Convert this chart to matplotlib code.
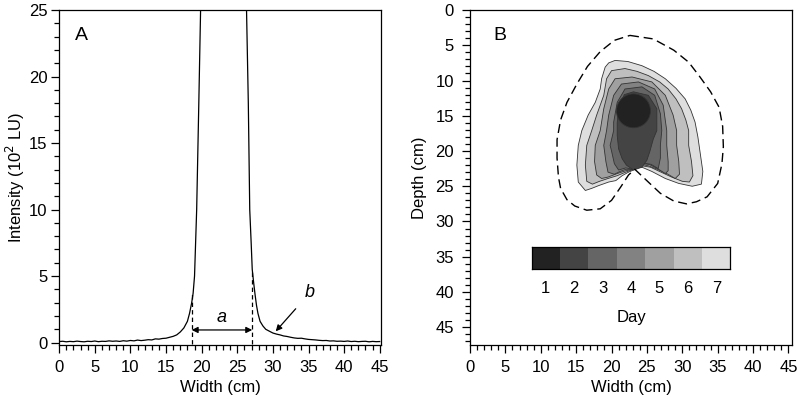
import numpy as np
import matplotlib.pyplot as plt
from matplotlib.colors import ListedColormap
from matplotlib.patches import Polygon, Circle
from matplotlib.ticker import MultipleLocator

plt.rcParams['font.family'] = ['Liberation Sans', 'DejaVu Sans']
plt.rcParams['font.size'] = 12

# ---- Panel A: intensity profile across the width ----
width_cm = [0, 0.5, 1, 1.5, 2, 2.5, 3, 3.5, 4, 4.5, 5, 5.5, 6, 6.5, 7, 7.5, 8, 8.5,
            9, 9.5, 10, 10.5, 11, 11.5, 12, 12.5, 13, 13.5, 14, 14.5, 15, 15.5, 16,
            16.5, 17, 17.5, 18, 18.3, 18.6, 18.8, 19.0, 19.3, 19.6, 19.85, 20.2,
            23.0, 26.0, 26.3, 26.55, 26.75, 26.95, 27.1, 27.3, 27.5, 27.7, 27.9,
            28.2, 28.6, 29.0, 29.6, 30.0, 30.5, 31.0, 31.5, 32, 32.5, 33, 33.5, 34,
            34.5, 35, 35.5, 36, 36.5, 37, 37.5, 38, 38.5, 39, 39.5, 40, 40.5, 41,
            41.5, 42, 42.5, 43, 43.5, 44, 44.5, 45]
intensity = [0.08, 0.10, 0.06, 0.09, 0.07, 0.11, 0.08, 0.06, 0.10, 0.08, 0.12, 0.07,
             0.10, 0.09, 0.13, 0.10, 0.12, 0.09, 0.14, 0.11, 0.16, 0.13, 0.19, 0.15,
             0.18, 0.22, 0.20, 0.28, 0.26, 0.31, 0.33, 0.40, 0.47, 0.58, 0.80, 1.10,
             1.60, 2.20, 3.00, 3.70, 5.00, 10.0, 18.0, 25.0, 35.0,
             50.0, 35.0, 25.0, 18.0, 10.0, 7.5, 5.5, 4.5, 3.6, 2.8, 2.2,
             1.60, 1.25, 1.00, 0.83, 0.72, 0.64, 0.58, 0.50, 0.46, 0.40, 0.35, 0.32,
             0.33, 0.28, 0.24, 0.22, 0.20, 0.17, 0.15, 0.16, 0.12, 0.13, 0.10, 0.11,
             0.09, 0.12, 0.08, 0.10, 0.07, 0.09, 0.10, 0.06, 0.09, 0.07, 0.08]

edge_left, edge_left_top = 18.6, 3.7
edge_right, edge_right_top = 27.1, 5.5
arrow_y = 0.95

# ---- Panel B: wetting pattern outlines per day (width cm, depth cm) ----
day7 = [(19.1, 8.1), (19.6, 7.5), (20.5, 7.15), (22.3, 7.3), (24.3, 7.9), (26.0, 8.7),
        (27.6, 9.75), (29.1, 11.1), (30.4, 12.6), (31.2, 14.2), (31.8, 15.9),
        (32.2, 18.0), (32.5, 20.1), (32.9, 22.9), (32.7, 24.7), (31.4, 25.0),
        (29.5, 24.6), (27.6, 23.9), (25.7, 22.9), (24.3, 22.3), (23.6, 22.4),
        (23.1, 22.7), (22.4, 23.0), (21.5, 23.5), (20.6, 24.2), (19.6, 24.4),
        (18.2, 24.9), (17.2, 25.3), (16.3, 25.6), (15.3, 24.4), (15.1, 22.0),
        (15.3, 19.2), (15.8, 17.1), (16.7, 14.9), (17.7, 13.1), (18.4, 11.2),
        (18.6, 9.75)]
day6 = [(19.3, 9.75), (20.0, 8.6), (21.9, 8.3), (23.6, 8.7), (25.2, 9.3), (26.8, 10.2),
        (28.0, 11.2), (29.1, 12.6), (29.9, 14.0), (30.5, 15.6), (30.9, 17.1),
        (30.9, 19.2), (31.3, 21.5), (31.5, 23.5), (31.0, 24.4), (30.0, 24.3),
        (28.5, 23.7), (27.0, 23.0), (25.5, 22.3), (24.3, 22.1), (23.1, 22.6),
        (22.0, 23.0), (20.8, 23.5), (19.5, 23.9), (18.3, 24.3), (17.3, 24.7),
        (16.5, 24.3), (16.3, 22.0), (16.5, 19.2), (17.2, 17.1), (17.9, 14.9),
        (18.9, 12.1)]
day5 = [(19.6, 11.2), (20.5, 9.75), (22.9, 9.5), (25.7, 10.2), (27.6, 12.1),
        (28.7, 14.9), (29.2, 17.1), (29.2, 19.2), (29.5, 21.5), (29.6, 23.3),
        (29.0, 23.9), (27.8, 23.2), (26.5, 22.6), (25.2, 22.1), (24.2, 21.9),
        (23.1, 22.6), (22.0, 22.8), (20.8, 23.2), (19.5, 23.7), (18.6, 23.9),
        (17.9, 23.4), (17.6, 21.5), (17.7, 19.2), (18.4, 17.1), (18.9, 14.0)]
day4 = [(20.3, 12.1), (21.4, 10.5), (23.8, 10.2), (26.1, 11.2), (27.3, 13.5),
        (27.8, 17.1), (27.8, 19.2), (28.0, 21.5), (28.0, 22.8), (27.6, 23.2),
        (26.5, 22.5), (25.3, 21.9), (24.2, 21.8), (23.1, 22.6), (22.0, 22.6),
        (21.2, 22.9), (20.4, 23.3), (19.5, 23.0), (19.2, 21.5), (18.9, 19.2),
        (19.3, 17.1), (19.6, 14.9)]
day3 = [(20.8, 13.1), (21.9, 11.2), (24.3, 10.9), (26.1, 12.1), (26.9, 14.7),
        (27.1, 17.1), (26.9, 19.2), (26.9, 21.0), (26.6, 22.5), (25.6, 21.9),
        (24.5, 21.7), (23.1, 22.6), (22.0, 22.4), (21.0, 22.7), (20.4, 21.8),
        (20.0, 20.0), (19.8, 19.2), (20.3, 17.1), (20.3, 15.9)]
day2 = [(21.0, 14.0), (21.8, 12.0), (23.1, 11.6), (25.2, 12.1), (26.4, 14.0),
        (26.4, 17.1), (25.9, 18.3), (25.4, 20.1), (25.0, 21.3), (24.3, 22.3),
        (23.1, 22.7), (22.1, 22.0), (21.5, 21.1), (21.0, 19.7), (20.8, 17.8),
        (20.8, 16.0)]
day1_center, day1_radius = (23.1, 14.3), 2.4

# outer dashed boundary
outline = [(22.6, 3.6), (25.9, 4.1), (28.8, 5.7), (30.9, 7.4), (32.5, 9.5), (34.0, 11.6),
           (35.2, 13.8), (35.7, 16.5), (35.8, 19.4), (35.6, 21.8), (35.0, 24.6),
           (33.5, 26.5), (32.0, 27.2), (30.6, 27.5), (28.8, 27.1), (26.9, 26.0),
           (25.3, 24.5), (23.3, 22.6), (22.4, 23.4), (21.3, 25.1), (20.0, 27.0),
           (18.4, 28.2), (16.5, 28.4), (14.8, 27.8), (13.7, 26.9), (12.8, 25.3),
           (12.5, 23.7), (12.3, 21.0), (12.3, 18.4), (12.8, 15.6), (13.7, 13.1),
           (15.1, 10.5), (16.6, 8.0), (18.4, 5.9), (20.4, 4.3)]

days = [1, 2, 3, 4, 5, 6, 7]
day_colors = ['#222222', '#444444', '#656565', '#828282', '#a0a0a0', '#bfbfbf', '#dedede']

fig = plt.figure(figsize=(8, 4.01), dpi=100)
axA = fig.add_axes([0.074, 0.140, 0.402, 0.835])
axB = fig.add_axes([0.5875, 0.140, 0.4025, 0.835])


def style_axis(ax, ypad):
    ax.xaxis.set_major_locator(MultipleLocator(5))
    ax.xaxis.set_minor_locator(MultipleLocator(1))
    ax.yaxis.set_major_locator(MultipleLocator(5))
    ax.yaxis.set_minor_locator(MultipleLocator(1))
    ax.tick_params(which='major', direction='out', length=5.6, width=0.9, labelsize=12)
    ax.tick_params(which='minor', direction='out', length=3.4, width=0.9)
    ax.tick_params(axis='x', which='major', pad=5)
    ax.tick_params(axis='y', which='major', pad=ypad)
    for s in ax.spines.values():
        s.set_linewidth(0.9)


# Panel A
axA.plot(width_cm, intensity, color='black', lw=0.9)
axA.plot([edge_left, edge_left], [-0.1, edge_left_top], 'k--', lw=0.9, dashes=(3.5, 2.5))
axA.plot([edge_right, edge_right], [-0.1, edge_right_top], 'k--', lw=0.9, dashes=(3.5, 2.5))
axA.annotate('', xy=(edge_left, arrow_y), xytext=(edge_right, arrow_y),
             arrowprops=dict(arrowstyle='<|-|>', color='black', lw=0.9,
                             mutation_scale=9, shrinkA=0, shrinkB=0))
axA.text((edge_left + edge_right) / 2, 1.9, 'a', style='italic', ha='center',
         va='center', fontsize=13)
axA.annotate('b', xy=(30.4, 0.85), xytext=(35.2, 3.75), style='italic', fontsize=13,
             ha='center', va='center',
             arrowprops=dict(arrowstyle='-|>', color='black', lw=0.9,
                             mutation_scale=9, shrinkA=7, shrinkB=0))
axA.text(0.068, 0.925, 'A', transform=axA.transAxes, fontsize=14, ha='center', va='center')
axA.set_xlim(0, 45.15)
axA.set_ylim(-0.17, 25)
axA.set_xlabel('Width (cm)', labelpad=4)
axA.set_ylabel('Intensity (10$^2$ LU)', labelpad=1)
style_axis(axA, 3)

# Panel B
shapes = [day7, day6, day5, day4, day3, day2]
for pts, c in zip(shapes, day_colors[:0:-1]):
    axB.add_patch(Polygon(pts, closed=True, facecolor=c, edgecolor='#333333', lw=0.6))
axB.add_patch(Circle(day1_center, day1_radius, facecolor=day_colors[0],
                     edgecolor='#333333', lw=0.6))
ox = [p[0] for p in outline] + [outline[0][0]]
oy = [p[1] for p in outline] + [outline[0][1]]
axB.plot(ox, oy, color='black', lw=1.0, dashes=(6.5, 3.5))
axB.text(0.093, 0.925, 'B', transform=axB.transAxes, fontsize=14, ha='center', va='center')
axB.set_xlim(0, 45.5)
axB.set_ylim(47.5, 0)
axB.set_xlabel('Width (cm)', labelpad=4)
axB.set_ylabel('Depth (cm)', labelpad=6)
style_axis(axB, 6)

# colour key for days
cax = axB.inset_axes([0.191, 0.227, 0.618, 0.064])
cax.pcolormesh(np.arange(len(days) + 1), [0, 1], np.array([days]),
               cmap=ListedColormap(day_colors), vmin=0.5, vmax=7.5)
cax.set_xticks(np.arange(len(days)) + 0.5)
cax.set_xticklabels([str(d) for d in days])
cax.set_yticks([])
cax.tick_params(axis='x', length=0, pad=9, labelsize=12)
cax.set_xlabel('Day', labelpad=10)
for s in cax.spines.values():
    s.set_linewidth(0.9)

fig.savefig('out.png', dpi=100)
